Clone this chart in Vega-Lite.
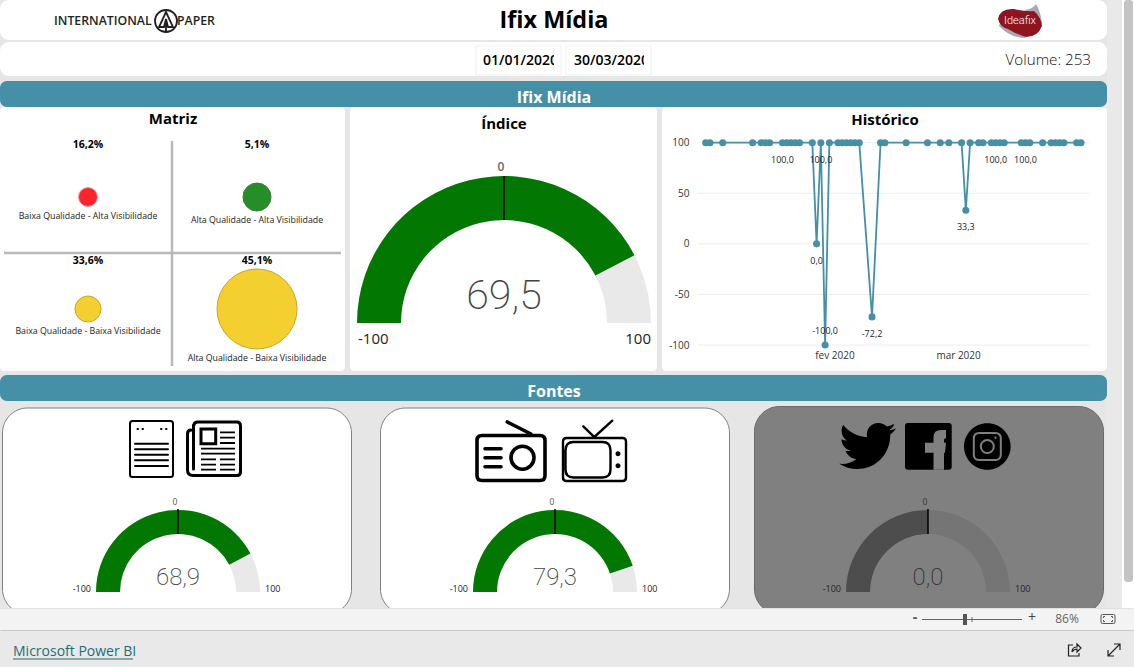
{
"$schema":"https://vega.github.io/schema/vega-lite/v6.json",
"background":"#e6e6e6","padding":0,"spacing":0,
"resolve":{"scale":{"fill":"independent","stroke":"independent","size":"independent"}},
"config":{"view":{"stroke":null},"concat":{"spacing":0},"text":{"font":"Open Sans","baseline":"middle"},"point":{"opacity":1}},
"vconcat":[
{"spacing":0,"resolve":{"scale":{"fill":"independent","stroke":"independent","size":"independent"}},"hconcat":[
 {"spacing":0,"resolve":{"scale":{"fill":"independent","stroke":"independent","size":"independent"}},"vconcat":[
  {"width":1107,"height":40,"view":{"fill":"white","cornerRadius":9},"data":{"values":[{}]},"layer":[
   {"mark":{"type":"text","text":"Ifix Mídia","x":554,"y":21,"align":"center","fontSize":23.4,"fontWeight":700,"fill":"#000"}},
   {"mark":{"type":"text","text":"INTERNATIONAL","x":54,"y":21,"align":"left","fontSize":12.3,"fontWeight":600,"fill":"#231f20"}},
   {"mark":{"type":"text","text":"PAPER","x":177,"y":21,"align":"left","fontSize":12.3,"fontWeight":600,"fill":"#231f20"}},
   {"mark":{"type":"point","x":166,"y":21,"size":4,"filled":false,"stroke":"#231f20","strokeWidth":1.8,"shape":"M-11 0 A11 11 0 1 1 11 0 A11 11 0 1 1 -11 0 Z M0 -9 L-7 6 H-2 L0 -2 L2 6 H7 Z M0 -2 V11"}},
   {"mark":{"type":"point","x":1020,"y":21,"size":4,"filled":true,"fill":"#a9a9b4","stroke":null,"shape":"M-21 5 Q-10 17 6 17 Q0 8 -20 2 Z M5 -11 Q13 -12 16 -17 Q21 -9 22 3 Z"}},
   {"mark":{"type":"point","x":1020,"y":21,"size":4,"filled":true,"fill":"#8e1420","stroke":null,"shape":"M-22 -2 Q-20 -13 -6 -12 Q6 -9 14 -10 Q21 -4 22 5 Q18 16 6 16 Q-4 13 -12 8 Q-20 6 -22 -2 Z"}},
   {"mark":{"type":"text","text":"Ideafix","x":1020,"y":21,"align":"center","fontSize":11,"font":"Roboto","fontWeight":300,"fill":"white"}}
  ]},
  {"width":1107,"height":2,"data":{"values":[{}]},"mark":{"type":"rect","x":0,"x2":1107,"y":0,"y2":2,"opacity":0}},
  {"width":1107,"height":34,"view":{"fill":"white","cornerRadius":9},"data":{"values":[{}]},"layer":[
   {"mark":{"type":"rect","x":476,"x2":561,"y":4,"y2":33,"fill":"white","stroke":"#efefef"}},
   {"mark":{"type":"rect","x":566,"x2":651,"y":4,"y2":33,"fill":"white","stroke":"#efefef"}},
   {"mark":{"type":"text","text":"01/01/2020","x":483,"y":19,"align":"left","fontSize":14,"fontWeight":600,"fill":"#000"}},
   {"mark":{"type":"text","text":"30/03/2020","x":574,"y":19,"align":"left","fontSize":14,"fontWeight":600,"fill":"#000"}},
   {"mark":{"type":"rect","x":554,"x2":560,"y":6,"y2":31,"fill":"white"}},
   {"mark":{"type":"rect","x":644,"x2":650,"y":6,"y2":31,"fill":"white"}},
   {"mark":{"type":"text","text":"Volume: 253","x":1091,"y":18,"align":"right","fontSize":15.2,"fontWeight":300,"fill":"#111"}}
  ]},
  {"width":1107,"height":5,"data":{"values":[{}]},"mark":{"type":"rect","x":0,"x2":1107,"y":0,"y2":5,"opacity":0}},
  {"width":1107,"height":26,"view":{"fill":"#4590a7","cornerRadius":7},"data":{"values":[{}]},"mark":{"type":"text","text":"Ifix Mídia","x":554,"y":16.5,"align":"center","fontSize":16,"fontWeight":700,"fill":"white"}},
  {"spacing":0,"bounds":"flush","resolve":{"scale":{"fill":"independent","stroke":"independent","size":"independent"}},"hconcat":[
   {"width":345,"height":264,"view":{"fill":"white","cornerRadius":4},"data":{"values":[{}]},"layer":[
    {"mark":{"type":"text","text":"Matriz","x":173,"y":12,"align":"center","fontSize":15,"fontWeight":700,"fill":"#000"}},
    {"mark":{"type":"rule","stroke":"#b8b8b8","strokeWidth":2.5},"encoding":{"x":{"value":172},"y":{"value":34},"y2":{"value":259}}},
    {"mark":{"type":"rule","stroke":"#b8b8b8","strokeWidth":2.5},"encoding":{"x":{"value":4},"x2":{"value":341},"y":{"value":146}}},
    {"data":{"values":[
      {"quadrante":"Baixa Qualidade - Alta Visibilidade","qualidade":"Baixa","visibilidade":"Alta","pct":"16,2%","peso":5.6},
      {"quadrante":"Alta Qualidade - Alta Visibilidade","qualidade":"Alta","visibilidade":"Alta","pct":"5,1%","peso":12.25},
      {"quadrante":"Baixa Qualidade - Baixa Visibilidade","qualidade":"Baixa","visibilidade":"Baixa","pct":"33,6%","peso":10.6},
      {"quadrante":"Alta Qualidade - Baixa Visibilidade","qualidade":"Alta","visibilidade":"Baixa","pct":"45,1%","peso":100}
     ]},
     "encoding":{
      "x":{"field":"qualidade","type":"nominal","scale":{"type":"point","padding":0,"domain":["Baixa","Alta"],"range":[88,257]},"axis":null},
      "y":{"field":"visibilidade","type":"nominal","scale":{"type":"point","padding":0,"domain":["Alta","Baixa"],"range":[90,202]},"axis":null}
     },
     "layer":[
      {"mark":{"type":"point","filled":true,"strokeWidth":1,"opacity":1},"encoding":{
        "size":{"field":"peso","type":"quantitative","scale":{"domain":[0,100],"range":[0,6400]},"legend":null},
        "fill":{"field":"quadrante","type":"nominal","legend":null,"scale":{"domain":["Baixa Qualidade - Alta Visibilidade","Alta Qualidade - Alta Visibilidade","Baixa Qualidade - Baixa Visibilidade","Alta Qualidade - Baixa Visibilidade"],"range":["#f9252b","#248e28","#f4cf30","#f4cf30"]}},
        "stroke":{"field":"quadrante","type":"nominal","legend":null,"scale":{"domain":["Baixa Qualidade - Alta Visibilidade","Alta Qualidade - Alta Visibilidade","Baixa Qualidade - Baixa Visibilidade","Alta Qualidade - Baixa Visibilidade"],"range":["#e0a0a0","#3c7a3c","#c8a52c","#c8a52c"]}}
      }},
      {"transform":[{"filter":"datum.visibilidade==='Alta'"}],"mark":{"type":"text","dy":-52,"fontSize":10.5,"fontWeight":700,"fill":"#000"},"encoding":{"text":{"field":"pct"}}},
      {"transform":[{"filter":"datum.visibilidade==='Baixa'"}],"mark":{"type":"text","dy":-48,"fontSize":10.5,"fontWeight":700,"fill":"#000"},"encoding":{"text":{"field":"pct"}}},
      {"transform":[{"filter":"datum.qualidade==='Baixa'&&datum.visibilidade==='Alta'"}],"mark":{"type":"text","dy":18.5,"fontSize":8.8,"fill":"#222"},"encoding":{"text":{"field":"quadrante"}}},
      {"transform":[{"filter":"datum.qualidade==='Alta'&&datum.visibilidade==='Alta'"}],"mark":{"type":"text","dy":22.5,"fontSize":8.8,"fill":"#222"},"encoding":{"text":{"field":"quadrante"}}},
      {"transform":[{"filter":"datum.qualidade==='Baixa'&&datum.visibilidade==='Baixa'"}],"mark":{"type":"text","dy":21.5,"fontSize":8.8,"fill":"#222"},"encoding":{"text":{"field":"quadrante"}}},
      {"transform":[{"filter":"datum.qualidade==='Alta'&&datum.visibilidade==='Baixa'"}],"mark":{"type":"text","dy":48.5,"fontSize":8.8,"fill":"#222"},"encoding":{"text":{"field":"quadrante"}}}
     ]}
   ]},
   {"width":5,"height":264,"data":{"values":[{}]},"mark":{"type":"rect","x":0,"x2":5,"y":0,"y2":264,"opacity":0}},
   {"width":307,"height":264,"view":{"fill":"white","cornerRadius":4},"data":{"values":[{}]},"layer":[
    {"mark":{"type":"text","text":"Índice","x":154,"y":17,"align":"center","fontSize":15,"fontWeight":700,"fill":"#000"}},
    {"data":{"values":[{"parte":"base","de":-100,"ate":100},{"parte":"valor","de":-100,"ate":69.5}]},
     "mark":{"type":"arc","radius":147,"radius2":103},
     "encoding":{"x":{"value":154},"y":{"value":216},
      "theta":{"field":"de","type":"quantitative","scale":{"domain":[-100,100],"range":[-1.5708,1.5708]}},
      "theta2":{"field":"ate"},
      "order":{"field":"ate","sort":"descending"},
      "fill":{"field":"parte","type":"nominal","legend":null,"scale":{"domain":["base","valor"],"range":["#e9e9e9","#027802"]}}}},
    {"mark":{"type":"rule","stroke":"#000","strokeWidth":1.5},"encoding":{"x":{"value":154},"y":{"value":69},"y2":{"value":113}}},
    {"mark":{"type":"text","text":"0","x":151,"y":60,"align":"center","fontSize":12,"fontWeight":600,"fill":"#666"}},
    {"mark":{"type":"text","text":"-100","x":8,"y":232,"align":"left","fontSize":15,"fill":"#222"}},
    {"mark":{"type":"text","text":"100","x":301,"y":232,"align":"right","fontSize":15,"fill":"#222"}},
    {"mark":{"type":"text","text":"69,5","x":154,"y":190,"align":"center","fontSize":41,"font":"Roboto","fontWeight":200,"fill":"#444"}}
   ]},
   {"width":5,"height":264,"data":{"values":[{}]},"mark":{"type":"rect","x":0,"x2":5,"y":0,"y2":264,"opacity":0}},
   {"width":445,"height":264,"view":{"fill":"white","cornerRadius":4},"layer":[
    {"data":{"values":[{}]},"mark":{"type":"text","text":"Histórico","x":223,"y":13,"align":"center","fontSize":15,"fontWeight":700,"fill":"#000"}},
    {"data":{"values":[{"grade":-100},{"grade":-50},{"grade":0},{"grade":50},{"grade":100}]},
     "mark":{"type":"rule","stroke":"#eeeeee"},
     "encoding":{"y":{"field":"grade","type":"quantitative","scale":{"domain":[-100,100],"range":[238,35.7]},
        "axis":{"orient":"left","offset":-30,"labelPadding":3,"values":[-100,-50,0,50,100],"labelExpr":"datum.value+''","title":null,"domain":false,"ticks":false,"grid":false,"labelFont":"Open Sans","labelFontSize":10,"labelColor":"#333"}},
       "x":{"value":36},"x2":{"value":427}}},
    {"data":{"format":{"parse":{"dia":"date:'%Y-%m-%d'"}},"values":[
      {"dia":"2020-01-01","v":100},{"dia":"2020-01-02","v":100},{"dia":"2020-01-05","v":100},{"dia":"2020-01-12","v":100},{"dia":"2020-01-14","v":100},{"dia":"2020-01-15","v":100},{"dia":"2020-01-16","v":100},{"dia":"2020-01-19","v":100,"rotulo":"100,0"},{"dia":"2020-01-20","v":100},{"dia":"2020-01-21","v":100},{"dia":"2020-01-22","v":100},{"dia":"2020-01-23","v":100},{"dia":"2020-01-26","v":100},{"dia":"2020-01-27","v":0,"rotulo":"0,0"},{"dia":"2020-01-28","v":100,"rotulo":"100,0"},{"dia":"2020-01-29","v":-100,"rotulo":"-100,0"},{"dia":"2020-01-30","v":100},
      {"dia":"2020-02-01","v":100},{"dia":"2020-02-02","v":100},{"dia":"2020-02-03","v":100},{"dia":"2020-02-04","v":100},{"dia":"2020-02-05","v":100},{"dia":"2020-02-06","v":100},{"dia":"2020-02-09","v":-72.2,"rotulo":"-72,2"},{"dia":"2020-02-11","v":100},{"dia":"2020-02-12","v":100},{"dia":"2020-02-17","v":100},{"dia":"2020-02-22","v":100},{"dia":"2020-02-25","v":100},{"dia":"2020-02-27","v":100},
      {"dia":"2020-03-01","v":100},{"dia":"2020-03-02","v":33.3,"rotulo":"33,3"},{"dia":"2020-03-03","v":100},{"dia":"2020-03-05","v":100},{"dia":"2020-03-06","v":100},{"dia":"2020-03-08","v":100},{"dia":"2020-03-09","v":100,"rotulo":"100,0"},{"dia":"2020-03-10","v":100},{"dia":"2020-03-11","v":100},{"dia":"2020-03-15","v":100},{"dia":"2020-03-16","v":100,"rotulo":"100,0"},{"dia":"2020-03-17","v":100},{"dia":"2020-03-20","v":100},{"dia":"2020-03-22","v":100},{"dia":"2020-03-23","v":100},{"dia":"2020-03-24","v":100},{"dia":"2020-03-25","v":100},{"dia":"2020-03-28","v":100},{"dia":"2020-03-29","v":100}
     ]},
     "encoding":{
      "x":{"field":"dia","type":"temporal","scale":{"domain":[{"year":2020,"month":1,"date":1},{"year":2020,"month":3,"date":29}],"range":[43.7,419]},
        "axis":{"orient":"bottom","offset":-21,"labelPadding":0,"values":[{"year":2020,"month":2,"date":1},{"year":2020,"month":3,"date":1}],"labelExpr":"month(datum.value)==1?'fev 2020':'mar 2020'","labelOffset":-3.5,"title":null,"domain":false,"ticks":false,"grid":false,"labelFont":"Open Sans","labelFontSize":10,"labelColor":"#333"}},
      "y":{"field":"v","type":"quantitative"}
     },
     "layer":[
      {"mark":{"type":"line","stroke":"#4590a7","strokeWidth":1.8}},
      {"mark":{"type":"point","filled":true,"fill":"#4590a7","stroke":null,"size":50,"opacity":1}},
      {"transform":[{"filter":"datum.rotulo && datum.v>-100"}],"mark":{"type":"text","dy":17,"fontSize":9,"fill":"#222"},"encoding":{"text":{"field":"rotulo"}}},
      {"transform":[{"filter":"datum.v==-100"}],"mark":{"type":"text","dy":-14,"fontSize":9,"fill":"#222"},"encoding":{"text":{"field":"rotulo"}}}
     ]}
   ]}
  ]},
  {"width":1107,"height":4,"data":{"values":[{}]},"mark":{"type":"rect","x":0,"x2":1107,"y":0,"y2":4,"opacity":0}},
  {"width":1107,"height":26,"view":{"fill":"#4590a7","cornerRadius":7},"data":{"values":[{}]},"mark":{"type":"text","text":"Fontes","x":554,"y":16.5,"align":"center","fontSize":16,"fontWeight":700,"fill":"white"}},
  {"width":1107,"height":5,"data":{"values":[{}]},"mark":{"type":"rect","x":0,"x2":1107,"y":0,"y2":5,"opacity":0}},
  {"spacing":0,"bounds":"flush","resolve":{"scale":{"fill":"independent","stroke":"independent","size":"independent"}},"hconcat":[
   {"width":2,"height":202,"data":{"values":[{}]},"mark":{"type":"rect","x":0,"x2":2,"y":0,"y2":202,"opacity":0}},
   {"width":350,"height":202,"data":{"values":[{}]},"layer":[
    {"mark":{"type":"rect","x":0.5,"x2":349.5,"y":2,"y2":208,"cornerRadius":25,"fill":"white","stroke":"#808080","clip":true}},
    {"mark":{"type":"point","x":149.5,"y":43,"size":4,"filled":false,"stroke":"#000","strokeWidth":2,"strokeCap":"round","shape":"M-19 -28 H19 Q21.5 -28 21.5 -25.5 V25.5 Q21.5 28 19 28 H-19 Q-21.5 28 -21.5 25.5 V-25.5 Q-21.5 -28 -19 -28 Z M-16.5 -5.3 H16.5 M-16.5 0.3 H16.5 M-16.5 5.7 H16.5 M-16.5 11.3 H16.5 M-16.5 17 H16.5 M-14 -20 H-13.5 M-9 -20 H-8.5 M9.5 -20 H10 M14.5 -20 H15"}},
    {"mark":{"type":"point","x":212,"y":43,"size":4,"filled":false,"stroke":"#000","strokeWidth":3,"strokeCap":"round","shape":"M-20 -24 Q-20 -27 -16 -27 H23 Q26.5 -27 26.5 -23 V23 Q26.5 26.5 23 26.5 H-21 Q-26.5 26.5 -26.5 21 V-15 Q-26.5 -19 -23 -19 M-20.5 20 V-24 M-13 -20 H1.7 V-5.3 H-13 Z"}},
    {"mark":{"type":"point","x":212,"y":43,"size":4,"filled":false,"stroke":"#000","strokeWidth":1.8,"shape":"M6 -16.7 H21 M6 -11.3 H21 M6 -6 H21 M-13 -0.3 H21 M-13 4.7 H21 M-13 10.3 H2 M6 10.3 H21 M-13 15.7 H2 M6 15.7 H21 M-13 20.7 H2 M6 20.7 H21"}},
    {"data":{"values":[{"parte":"base","de":-100,"ate":100},{"parte":"valor","de":-100,"ate":68.9}]},
     "mark":{"type":"arc","radius":82,"radius2":58},
     "encoding":{"x":{"value":176},"y":{"value":186},
      "theta":{"field":"de","type":"quantitative","scale":{"domain":[-100,100],"range":[-1.5708,1.5708]}},
      "theta2":{"field":"ate"},"order":{"field":"ate","sort":"descending"},
      "fill":{"field":"parte","type":"nominal","legend":null,"scale":{"domain":["base","valor"],"range":["#e9e9e9","#027802"]}}}},
    {"mark":{"type":"rule","stroke":"#000","strokeWidth":1.5},"encoding":{"x":{"value":176},"y":{"value":103},"y2":{"value":128}}},
    {"mark":{"type":"text","text":"0","x":173,"y":96,"align":"center","fontSize":8.5,"fill":"#555"}},
    {"mark":{"type":"text","text":"-100","x":89,"y":183,"align":"right","fontSize":9,"fill":"#222"}},
    {"mark":{"type":"text","text":"100","x":263,"y":183,"align":"left","fontSize":9,"fill":"#222"}},
    {"mark":{"type":"text","text":"68,9","x":176,"y":172,"align":"center","fontSize":24,"font":"Roboto","fontWeight":200,"fill":"#444"}}
   ]},
   {"width":28,"height":202,"data":{"values":[{}]},"mark":{"type":"rect","x":0,"x2":28,"y":0,"y2":202,"opacity":0}},
   {"width":350,"height":202,"data":{"values":[{}]},"layer":[
    {"mark":{"type":"rect","x":0.5,"x2":349.5,"y":2,"y2":208,"cornerRadius":25,"fill":"white","stroke":"#808080","clip":true}},
    {"mark":{"type":"point","x":131,"y":52,"size":4,"filled":false,"stroke":"#000","strokeWidth":3.6,"strokeCap":"round","shape":"M-29 -22.5 H29 Q34 -22.5 34 -17.5 V17.5 Q34 22.5 29 22.5 H-29 Q-34 22.5 -34 17.5 V-17.5 Q-34 -22.5 -29 -22.5 Z M-3.7 -36 L20 -24 M-26 -9.3 H-10 M-26 -0.3 H-10 M-26 8.7 H-10 M0 -0.3 A11.5 11.5 0 1 1 23 -0.3 A11.5 11.5 0 1 1 0 -0.3 Z"}},
    {"mark":{"type":"point","x":214.5,"y":53.5,"size":4,"filled":false,"stroke":"#000","strokeWidth":2.4,"strokeCap":"round","shape":"M-28 -21.5 H28 Q31.5 -21.5 31.5 -18 V18 Q31.5 21.5 28 21.5 H-28 Q-31.5 21.5 -31.5 18 V-18 Q-31.5 -21.5 -28 -21.5 Z M-21 -17.5 H8 Q16 -17.5 16 -9 V10 Q16 18 8 18 H-21 Q-29 18 -29 10 V-9 Q-29 -17.5 -21 -17.5 Z M-11.2 -33.2 L-0.2 -22.5 L17.8 -38.8"}},
    {"mark":{"type":"point","x":214.5,"y":53.5,"size":4,"filled":true,"fill":"#000","stroke":null,"shape":"M21 -5.8 A2.5 2.5 0 1 1 26 -5.8 A2.5 2.5 0 1 1 21 -5.8 Z M21 6.2 A2.5 2.5 0 1 1 26 6.2 A2.5 2.5 0 1 1 21 6.2 Z"}},
    {"data":{"values":[{"parte":"base","de":-100,"ate":100},{"parte":"valor","de":-100,"ate":79.3}]},
     "mark":{"type":"arc","radius":82,"radius2":58},
     "encoding":{"x":{"value":175},"y":{"value":186},
      "theta":{"field":"de","type":"quantitative","scale":{"domain":[-100,100],"range":[-1.5708,1.5708]}},
      "theta2":{"field":"ate"},"order":{"field":"ate","sort":"descending"},
      "fill":{"field":"parte","type":"nominal","legend":null,"scale":{"domain":["base","valor"],"range":["#e9e9e9","#027802"]}}}},
    {"mark":{"type":"rule","stroke":"#000","strokeWidth":1.5},"encoding":{"x":{"value":175},"y":{"value":103},"y2":{"value":128}}},
    {"mark":{"type":"text","text":"0","x":172,"y":96,"align":"center","fontSize":8.5,"fill":"#555"}},
    {"mark":{"type":"text","text":"-100","x":88,"y":183,"align":"right","fontSize":9,"fill":"#222"}},
    {"mark":{"type":"text","text":"100","x":262,"y":183,"align":"left","fontSize":9,"fill":"#222"}},
    {"mark":{"type":"text","text":"79,3","x":175,"y":172,"align":"center","fontSize":24,"font":"Roboto","fontWeight":200,"fill":"#444"}}
   ]},
   {"width":24,"height":202,"data":{"values":[{}]},"mark":{"type":"rect","x":0,"x2":24,"y":0,"y2":202,"opacity":0}},
   {"width":350,"height":202,"data":{"values":[{}]},"layer":[
    {"mark":{"type":"rect","x":0.5,"x2":349.5,"y":0.5,"y2":208,"cornerRadius":25,"fill":"#808080","stroke":"#6a6a6a","clip":true}},
    {"mark":{"type":"point","x":85.3,"y":11.6,"size":22.3,"filled":true,"fill":"#000","stroke":null,"shape":"M23.953 4.57a10 10 0 01-2.825.775 4.958 4.958 0 002.163-2.723c-.951.555-2.005.959-3.127 1.184a4.92 4.92 0 00-8.384 4.482C7.69 8.095 4.067 6.13 1.64 3.162a4.822 4.822 0 00-.666 2.475c0 1.71.87 3.213 2.188 4.096a4.904 4.904 0 01-2.228-.616v.06a4.923 4.923 0 003.946 4.827 4.996 4.996 0 01-2.212.085 4.936 4.936 0 004.604 3.417 9.867 9.867 0 01-6.102 2.105c-.39 0-.779-.023-1.17-.067a13.995 13.995 0 007.557 2.209c9.053 0 13.998-7.496 13.998-13.985 0-.21 0-.42-.015-.63A9.935 9.935 0 0024 4.59z"}},
    {"mark":{"type":"point","x":151,"y":17,"size":4,"filled":true,"fill":"#000","stroke":null,"shape":"M3 0 H43.7 Q46.7 0 46.7 3 V43.7 Q46.7 46.7 43.7 46.7 H3 Q0 46.7 0 43.7 V3 Q0 0 3 0 Z"}},
    {"mark":{"type":"point","x":151,"y":17,"size":4,"filled":true,"fill":"#808080","stroke":null,"shape":"M28.5 46.7 V29.7 H20 V19.7 H28.5 V14 Q28.5 7 36 7 H41 V15.5 H40 Q39 15.5 39 17 V19.7 H41 L40 29.7 H39 V46.7 Z"}},
    {"mark":{"type":"point","x":233.3,"y":40.5,"size":4,"filled":true,"fill":"#000","stroke":null,"shape":"M-23.3 0 A23.3 23.3 0 1 1 23.3 0 A23.3 23.3 0 1 1 -23.3 0 Z"}},
    {"mark":{"type":"point","x":233.3,"y":40.5,"size":4,"filled":false,"stroke":"#808080","strokeWidth":2,"strokeCap":"round","shape":"M-8 -13.5 H8 Q13.5 -13.5 13.5 -8 V8 Q13.5 13.5 8 13.5 H-8 Q-13.5 13.5 -13.5 8 V-8 Q-13.5 -13.5 -8 -13.5 Z M-6.5 0 A6.5 6.5 0 1 1 6.5 0 A6.5 6.5 0 1 1 -6.5 0 Z M8 -9 L8.4 -8.6"}},
    {"data":{"values":[{"parte":"base","de":-100,"ate":100},{"parte":"valor","de":-100,"ate":0}]},
     "mark":{"type":"arc","radius":82,"radius2":58},
     "encoding":{"x":{"value":174},"y":{"value":186},
      "theta":{"field":"de","type":"quantitative","scale":{"domain":[-100,100],"range":[-1.5708,1.5708]}},
      "theta2":{"field":"ate"},"order":{"field":"ate","sort":"descending"},
      "fill":{"field":"parte","type":"nominal","legend":null,"scale":{"domain":["base","valor"],"range":["#757575","#4d4d4d"]}}}},
    {"mark":{"type":"rule","stroke":"#000","strokeWidth":1.5},"encoding":{"x":{"value":174},"y":{"value":103},"y2":{"value":128}}},
    {"mark":{"type":"text","text":"0","x":171,"y":96,"align":"center","fontSize":8.5,"fill":"#333"}},
    {"mark":{"type":"text","text":"-100","x":87,"y":183,"align":"right","fontSize":9,"fill":"#222"}},
    {"mark":{"type":"text","text":"100","x":261,"y":183,"align":"left","fontSize":9,"fill":"#222"}},
    {"mark":{"type":"text","text":"0,0","x":174,"y":172,"align":"center","fontSize":24,"font":"Roboto","fontWeight":200,"fill":"#333"}}
   ]},
   {"width":3,"height":202,"data":{"values":[{}]},"mark":{"type":"rect","x":0,"x2":3,"y":0,"y2":202,"opacity":0}}
  ]}
 ]},
 {"width":15,"height":608,"view":{"fill":"#e9e9e9"},"data":{"values":[{}]},"mark":{"type":"rect","x":0,"x2":15,"y":0,"y2":608,"opacity":0}},
 {"width":12,"height":608,"view":{"fill":"white"},"data":{"values":[{}]},"mark":{"type":"rect","x":2,"x2":11,"y":0,"y2":582,"fill":"#c4c4c4","cornerRadius":3}}
]},
{"width":1134,"height":22,"view":{"fill":"#f3f3f3"},"data":{"values":[{}]},"layer":[
 {"mark":{"type":"rule","stroke":"#e0e0e0"},"encoding":{"x":{"value":0.5},"x2":{"value":1133.5},"y":{"value":0.5}}},
 {"mark":{"type":"text","text":"-","x":915,"y":10,"align":"center","fontSize":14,"fontWeight":700,"fill":"#555"}},
 {"mark":{"type":"rule","stroke":"#666"},"encoding":{"x":{"value":922},"x2":{"value":1022},"y":{"value":11.5}}},
 {"mark":{"type":"rect","x":963,"x2":967,"y":6,"y2":17,"fill":"#555"}},
 {"mark":{"type":"rule","stroke":"#666"},"encoding":{"x":{"value":972},"y":{"value":9},"y2":{"value":14}}},
 {"mark":{"type":"text","text":"+","x":1032,"y":10,"align":"center","fontSize":14,"fill":"#444"}},
 {"mark":{"type":"text","text":"86%","x":1067,"y":11,"align":"center","fontSize":12,"fill":"#666"}},
 {"mark":{"type":"point","x":1108,"y":11,"size":4,"filled":false,"stroke":"#555","strokeWidth":1,"shape":"M-5.5 -4.5 H5.5 Q7 -4.5 7 -3 V3 Q7 4.5 5.5 4.5 H-5.5 Q-7 4.5 -7 3 V-3 Q-7 -4.5 -5.5 -4.5 Z M-4.5 -1 V-2.5 H-3 M3 -2.5 H4.5 V-1 M4.5 1 V2.5 H3 M-3 2.5 H-4.5 V1"}}
]},
{"width":1134,"height":37,"view":{"fill":"#e9e9e9"},"data":{"values":[{}]},"layer":[
 {"mark":{"type":"rule","stroke":"#c8c8c8"},"encoding":{"x":{"value":0.5},"x2":{"value":1133.5},"y":{"value":0.5}}},
 {"mark":{"type":"text","text":"Microsoft Power BI","x":13,"y":21.5,"align":"left","fontSize":14,"fill":"#1c6e78"}},
 {"mark":{"type":"rule","stroke":"#1c6e78"},"encoding":{"x":{"value":13},"x2":{"value":133},"y":{"value":29}}},
 {"mark":{"type":"point","x":1074,"y":20,"size":4,"filled":false,"stroke":"#222","strokeWidth":1.2,"shape":"M-1 -5 H-5.5 V6 H5 V3 M-2 2 Q-2 -3 3 -3 V-6 L7 -2 L3 2 V-1 Q0 -1 -2 2"}},
 {"mark":{"type":"point","x":1114,"y":20,"size":4,"filled":false,"stroke":"#222","strokeWidth":1.2,"shape":"M-6 6 L6 -6 M0 -6 H6 V0 M-6 0 V6 H0"}}
]}
]}
